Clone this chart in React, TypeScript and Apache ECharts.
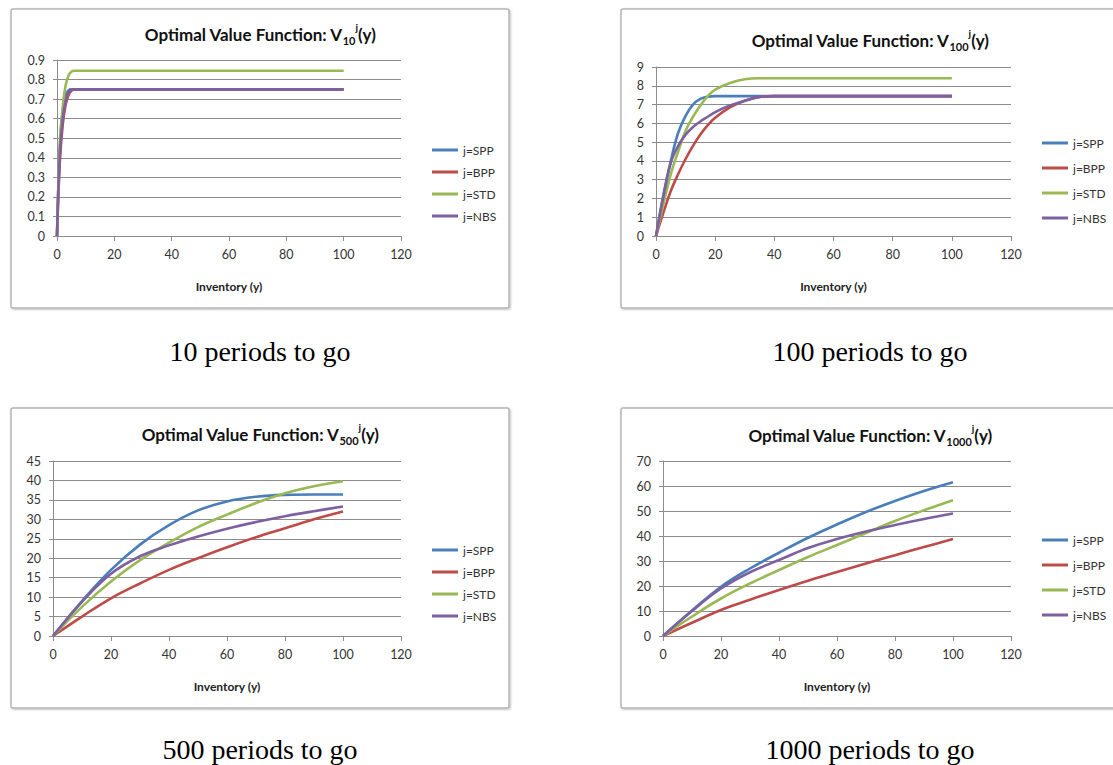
import React, { useEffect, useRef } from "react";
import * as echarts from "echarts";

const seriesNames = ["j=SPP", "j=BPP", "j=STD", "j=NBS"];
const seriesColors = ["#4a7ebb", "#be4b48", "#98b954", "#7d60a0"];
const xTicks = [0, 20, 40, 60, 80, 100, 120];

// 10 periods to go
const x10 = [0, 1, 2, 3, 4, 5, 6, 7, 8, 10, 100];
const spp10 = [0, 0.45, 0.64, 0.72, 0.745, 0.75, 0.75, 0.75, 0.75, 0.75, 0.75];
const bpp10 = [0, 0.38, 0.57, 0.67, 0.72, 0.742, 0.75, 0.75, 0.75, 0.75, 0.75];
const std10 = [0, 0.48, 0.66, 0.77, 0.82, 0.84, 0.845, 0.845, 0.845, 0.845, 0.845];
const nbs10 = [0, 0.42, 0.6, 0.69, 0.735, 0.748, 0.75, 0.75, 0.75, 0.75, 0.75];

// 100 periods to go
const x100 = [0, 2.5, 5, 7.5, 10, 12.5, 15, 17.5, 20, 25, 30, 35, 40, 50, 100];
const spp100 = [0, 2.2, 4.0, 5.5, 6.4, 7.0, 7.3, 7.42, 7.45, 7.45, 7.45, 7.45, 7.45, 7.45, 7.45];
const bpp100 = [0, 1.25, 2.4, 3.3, 4.1, 4.8, 5.4, 5.9, 6.3, 6.85, 7.2, 7.4, 7.45, 7.45, 7.45];
const std100 = [0, 1.7, 3.3, 4.5, 5.6, 6.35, 6.95, 7.45, 7.8, 8.15, 8.35, 8.4, 8.4, 8.4, 8.4];
const nbs100 = [0, 2.1, 3.9, 4.8, 5.4, 5.8, 6.1, 6.35, 6.6, 6.95, 7.2, 7.4, 7.45, 7.45, 7.45];

// 500 periods to go
const x500 = [0, 10, 20, 30, 40, 50, 60, 70, 80, 90, 100];
const spp500 = [0, 9.0, 17, 23.5, 28.5, 32.3, 34.6, 35.8, 36.3, 36.4, 36.4];
const bpp500 = [0, 5, 9.7, 13.5, 17, 20, 22.8, 25.4, 27.7, 30, 32];
const std500 = [0, 7.5, 14, 19.5, 24, 28, 31.2, 34.2, 36.7, 38.5, 39.8];
const nbs500 = [0, 8.8, 16, 20.5, 23.3, 25.6, 27.6, 29.3, 30.8, 32.1, 33.3];

// 1000 periods to go
const x1000 = [0, 10, 20, 30, 40, 50, 60, 70, 80, 90, 100];
const spp1000 = [0, 10.2, 19.7, 27, 33.3, 39.3, 44.6, 49.6, 54, 58, 61.5];
const bpp1000 = [0, 5.3, 10.4, 14.5, 18.4, 22.1, 25.6, 29, 32.3, 35.6, 38.8];
const std1000 = [0, 7.8, 15, 21, 26.4, 31.6, 36.4, 41.2, 46, 50.3, 54.3];
const nbs1000 = [0, 10, 19, 25.5, 30.4, 35.2, 38.8, 41.8, 44.4, 46.8, 49];

const periods = ["10", "100", "500", "1000"];
const captions = ["10 periods to go", "100 periods to go", "500 periods to go", "1000 periods to go"];
const yMax = [0.9, 9, 45, 70];
const yStep = [0.1, 1, 5, 10];

const panelX = [x10, x100, x500, x1000];
const panelY = [
  [spp10, bpp10, std10, nbs10],
  [spp100, bpp100, std100, nbs100],
  [spp500, bpp500, std500, nbs500],
  [spp1000, bpp1000, std1000, nbs1000],
];

// layout
const grids = [
  { left: 57, top: 60, width: 344, height: 176 },
  { left: 656, top: 67, width: 355, height: 169 },
  { left: 53, top: 461, width: 348, height: 175 },
  { left: 663, top: 461, width: 348, height: 175 },
];
const boxes = [
  { x: 11, y: 9, w: 498, h: 299 },
  { x: 621, y: 9, w: 498, h: 299 },
  { x: 11, y: 408, w: 498, h: 300 },
  { x: 621, y: 408, w: 498, h: 300 },
];
const titlePos = [
  [260, 34],
  [870, 40],
  [260, 434],
  [870, 435],
];
const captionPos = [
  [260, 351],
  [870, 351],
  [260, 749],
  [870, 749],
];
const legendPos = [
  { left: 432, top: 143, gap: 8 },
  { left: 1042, top: 136, gap: 11 },
  { left: 432, top: 543, gap: 8 },
  { left: 1042, top: 533, gap: 11 },
];

const FONT = "Lato";

export default function App() {
  const ref = useRef<HTMLDivElement>(null);
  useEffect(() => {
    if (!ref.current) return;
    const chart = echarts.init(ref.current, null, { renderer: "svg" });

    const graphic: any[] = [];
    boxes.forEach((b) => {
      graphic.push({
        type: "rect",
        z: -10,
        shape: { x: b.x, y: b.y, width: b.w, height: b.h, r: 2 },
        style: {
          fill: "#ffffff",
          stroke: "#b5b5b5",
          lineWidth: 1.5,
          shadowBlur: 2,
          shadowColor: "rgba(0,0,0,0.25)",
          shadowOffsetX: 1,
          shadowOffsetY: 1,
        },
      });
    });
    periods.forEach((p, i) => {
      graphic.push({
        type: "text",
        x: titlePos[i][0],
        y: titlePos[i][1],
        style: {
          text: `{a|Optimal Value Function: V}{s|${p}}{p|j}{a|(y)}`,
          align: "center",
          verticalAlign: "middle",
          rich: {
            a: { fontFamily: FONT, fontWeight: "bold", fontSize: 17, fill: "#111", lineHeight: 24, verticalAlign: "middle" },
            s: { fontFamily: FONT, fontWeight: "bold", fontSize: 11, fill: "#111", lineHeight: 13, verticalAlign: "bottom" },
            p: { fontFamily: FONT, fontWeight: "bold", fontSize: 10, fill: "#111", lineHeight: 14, verticalAlign: "top" },
          },
        },
      });
      graphic.push({
        type: "text",
        x: captionPos[i][0],
        y: captionPos[i][1],
        style: {
          text: captions[i],
          align: "center",
          verticalAlign: "middle",
          fontFamily: "Liberation Serif",
          fontSize: 28,
          fill: "#000",
        },
      });
    });

    const option: any = {
      animation: false,
      graphic,
      grid: grids.map((g) => ({ ...g, containLabel: false })),
      legend: legendPos.map((l) => ({
        data: seriesNames,
        orient: "vertical",
        left: l.left,
        top: l.top,
        itemGap: l.gap,
        itemWidth: 26,
        itemHeight: 3,
        icon: "rect",
        padding: 0,
        selectedMode: false,
        textStyle: { fontFamily: FONT, fontSize: 12, color: "#333", lineHeight: 14 },
      })),
      xAxis: grids.map((_, i) => ({
        type: "value",
        gridIndex: i,
        min: xTicks[0],
        max: xTicks[xTicks.length - 1],
        interval: 20,
        name: "Inventory (y)",
        nameLocation: "middle",
        nameGap: 44,
        nameTextStyle: { fontFamily: FONT, fontWeight: "bold", fontSize: 12, color: "#222" },
        axisLine: { show: true, lineStyle: { color: "#8c8c8c", width: 1 } },
        axisTick: { show: true, length: 5, lineStyle: { color: "#8c8c8c" } },
        axisLabel: { margin: 12, fontFamily: FONT, fontSize: 12.5, color: "#333" },
        splitLine: { show: false },
      })),
      yAxis: grids.map((_, i) => ({
        type: "value",
        gridIndex: i,
        min: 0,
        max: yMax[i],
        interval: yStep[i],
        axisLine: { show: true, lineStyle: { color: "#8c8c8c", width: 1 } },
        axisTick: { show: true, length: 4, lineStyle: { color: "#8c8c8c" } },
        axisLabel: {
          margin: 12,
          fontFamily: FONT,
          fontSize: 12.5,
          color: "#333",
          formatter: (v: number) => (yStep[i] < 1 ? String(Math.round(v * 10) / 10) : String(v)),
        },
        splitLine: { show: true, lineStyle: { color: "#8c8c8c", width: 1 } },
      })),
      series: [] as any[],
    };

    panelY.forEach((group, gi) => {
      group.forEach((vals, si) => {
        option.series.push({
          type: "line",
          name: seriesNames[si],
          xAxisIndex: gi,
          yAxisIndex: gi,
          data: panelX[gi].map((x, k) => [x, vals[k]]),
          showSymbol: false,
          symbol: "none",
          smooth: 0.4,
          color: seriesColors[si],
          lineStyle: { color: seriesColors[si], width: 2.6 },
          z: 2 + si,
        });
      });
    });

    chart.setOption(option);
    return () => chart.dispose();
  }, []);

  return (
    <div
      ref={ref}
      style={{ position: "absolute", left: 0, top: 0, width: 1113, height: 765, background: "#fff" }}
    />
  );
}
